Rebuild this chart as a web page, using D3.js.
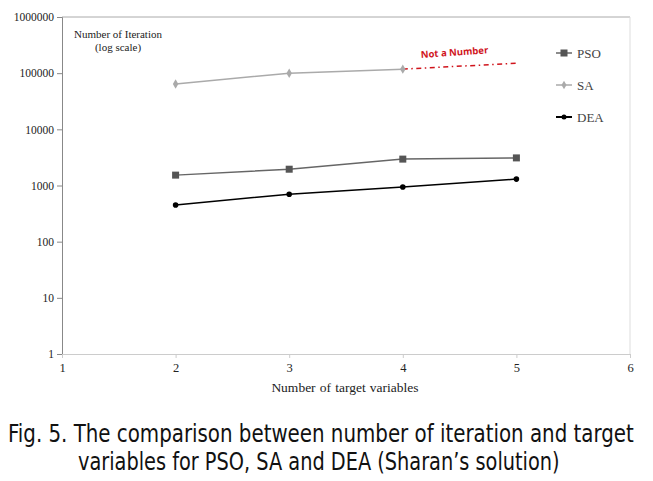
<!DOCTYPE html>
<html><head><meta charset="utf-8">
<script src="https://cdn.jsdelivr.net/npm/d3@7"></script>
<style>body{margin:0;background:#fff}svg{display:block}</style>
</head><body>
<svg id="c" width="653" height="481"></svg>
<script>
const xVals = [2, 3, 4, 5];
const psoVals = [1530, 1950, 2950, 3100];
const saVals = [64000, 100000, 118000];
const nanSegment = [[4, 118000], [5, 150000]];
const deaVals = [450, 700, 940, 1300];
const yTicks = [1, 10, 100, 1000, 10000, 100000, 1000000];
const xTicks = [1, 2, 3, 4, 5, 6];

const svg = d3.select("#c");
const x = d3.scaleLinear().domain([1, 6]).range([62, 630]);
const y = d3.scaleLog().domain([1, 1000000]).range([354, 17]);
const serif = "'Liberation Serif','Times New Roman',serif";

// frame
svg.append("line").attr("x1", 62).attr("x2", 630).attr("y1", 17).attr("y2", 17).attr("stroke", "#aaa");
svg.append("line").attr("x1", 630).attr("x2", 630).attr("y1", 17).attr("y2", 354).attr("stroke", "#ddd");

const yAxis = svg.append("g").attr("transform", "translate(62,0)")
  .call(d3.axisLeft(y).tickValues(yTicks).tickFormat(d3.format("d")).tickSize(5).tickPadding(3));
yAxis.select(".domain").attr("stroke", "#888");
yAxis.selectAll(".tick line").attr("stroke", "#888");
yAxis.selectAll("text").attr("font-family", serif).attr("font-size", 11.5).attr("fill", "#222");

const xAxis = svg.append("g").attr("transform", "translate(0,354)")
  .call(d3.axisBottom(x).tickValues(xTicks).tickFormat(d3.format("d")).tickSize(4).tickPadding(5));
xAxis.select(".domain").attr("stroke", "#ccc");
xAxis.selectAll(".tick line").attr("stroke", "#ccc");
xAxis.selectAll("text").attr("font-family", serif).attr("font-size", 12.5).attr("fill", "#222");

svg.append("text").attr("x", 345).attr("y", 392).attr("text-anchor", "middle")
  .attr("font-family", serif).attr("font-size", 13.5).attr("word-spacing", 0.8).attr("fill", "#222").text("Number of target variables");
svg.append("text").attr("x", 118).attr("y", 38).attr("text-anchor", "middle")
  .attr("font-family", serif).attr("font-size", 11).attr("fill", "#222").text("Number of Iteration");
svg.append("text").attr("x", 118).attr("y", 51).attr("text-anchor", "middle")
  .attr("font-family", serif).attr("font-size", 11).attr("fill", "#222").text("(log scale)");

const line = d3.line().x(d => x(d[0])).y(d => y(d[1]));

// SA
const saPts = xVals.slice(0, saVals.length).map((v, i) => [v, saVals[i]]);
svg.append("path").attr("d", line(saPts)).attr("fill", "none").attr("stroke", "#aaa").attr("stroke-width", 1.5);
svg.append("path").attr("d", line(nanSegment)).attr("fill", "none").attr("stroke", "#d0141c")
  .attr("stroke-width", 1.5).attr("stroke-dasharray", "5,3.5,1.5,3.5");
svg.selectAll(".sa").data(saPts).join("path")
  .attr("transform", d => `translate(${x(d[0])},${y(d[1])})`)
  .attr("d", d3.symbol(d3.symbolDiamond, 26)).attr("fill", "#aaa");
svg.append("text").attr("transform", "translate(421,58) rotate(-4)")
  .attr("font-family", "'Open Sans','Liberation Sans',sans-serif").attr("font-weight", "bold")
  .attr("font-size", 9.5).attr("fill", "#d0141c").text("Not a Number");

// PSO
const psoPts = xVals.map((v, i) => [v, psoVals[i]]);
svg.append("path").attr("d", line(psoPts)).attr("fill", "none").attr("stroke", "#666").attr("stroke-width", 1.5);
svg.selectAll(".pso").data(psoPts).join("rect")
  .attr("x", d => x(d[0]) - 3.5).attr("y", d => y(d[1]) - 3.5).attr("width", 7).attr("height", 7).attr("fill", "#555");

// DEA
const deaPts = xVals.map((v, i) => [v, deaVals[i]]);
svg.append("path").attr("d", line(deaPts)).attr("fill", "none").attr("stroke", "#000").attr("stroke-width", 1.5);
svg.selectAll(".dea").data(deaPts).join("circle")
  .attr("cx", d => x(d[0])).attr("cy", d => y(d[1])).attr("r", 2.8).attr("fill", "#000");

// legend
const legend = [
  {name: "PSO", color: "#666", mark: "sq", y: 53},
  {name: "SA", color: "#aaa", mark: "di", y: 85},
  {name: "DEA", color: "#000", mark: "ci", y: 117}
];
legend.forEach(l => {
  svg.append("line").attr("x1", 556).attr("x2", 572).attr("y1", l.y).attr("y2", l.y)
    .attr("stroke", l.color).attr("stroke-width", l.name === "DEA" ? 2 : 1.5);
  if (l.mark === "sq") svg.append("rect").attr("x", 560.5).attr("y", l.y - 3.5).attr("width", 7).attr("height", 7).attr("fill", "#555");
  if (l.mark === "di") svg.append("path").attr("transform", `translate(564,${l.y})`).attr("d", d3.symbol(d3.symbolDiamond, 22)).attr("fill", "#aaa");
  if (l.mark === "ci") svg.append("circle").attr("cx", 564).attr("cy", l.y).attr("r", 2.5).attr("fill", "#000");
  svg.append("text").attr("x", 577).attr("y", l.y + 4.5).attr("font-family", serif).attr("font-size", 13)
    .attr("fill", "#444").text(l.name);
});

// caption (horizontally scaled to fit target width)
const cap = "'DejaVu Sans Condensed','Liberation Sans Narrow','Noto Sans',sans-serif";
const captionLines = [
  {text: "Fig. 5. The comparison between number of iteration and target", x: 8, y: 442, w: 626},
  {text: "variables for PSO, SA and DEA (Sharan’s solution)", x: 78, y: 470, w: 482}
];
captionLines.forEach(c => {
  const t = svg.append("text").attr("x", 0).attr("y", 0).attr("font-family", cap).attr("font-size", 24)
    .attr("fill", "#111").text(c.text);
  const len = t.node().getComputedTextLength();
  t.attr("transform", `translate(${c.x},${c.y}) scale(${c.w / len},1)`);
});
</script>
</body></html>
